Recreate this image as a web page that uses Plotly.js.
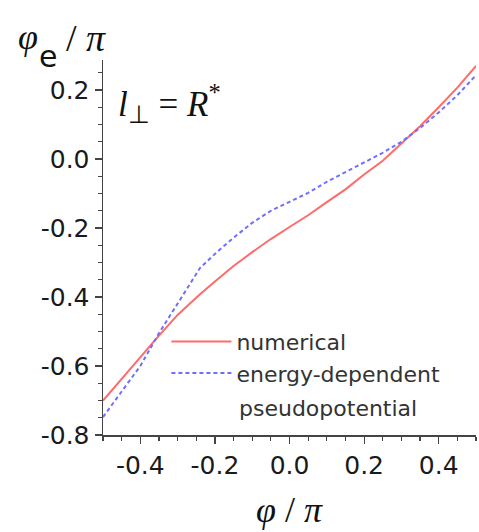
<!DOCTYPE html>
<html>
<head>
<meta charset="utf-8">
<script src="https://cdn.plot.ly/plotly-3.0.1.min.js"></script>
<style>html,body{margin:0;padding:0;background:#fff;}#chart{width:479px;height:532px;}</style>
</head>
<body>
<div id="chart"></div>
<script>
// phi/pi values
const xNumerical = [-0.5, -0.45, -0.4, -0.35, -0.3, -0.24, -0.2, -0.15, -0.1, -0.05, 0.0, 0.05, 0.1, 0.15, 0.2, 0.25, 0.3, 0.35, 0.4, 0.45, 0.5];
const yNumerical = [-0.70, -0.637, -0.574, -0.512, -0.452, -0.392, -0.355, -0.31, -0.27, -0.232, -0.197, -0.163, -0.125, -0.088, -0.045, -0.005, 0.045, 0.095, 0.15, 0.207, 0.27];
const xEnergy = [-0.5, -0.45, -0.4, -0.35, -0.3, -0.24, -0.2, -0.15, -0.1, -0.05, 0.0, 0.05, 0.1, 0.15, 0.2, 0.25, 0.3, 0.35, 0.4, 0.45, 0.5];
const yEnergy = [-0.748, -0.675, -0.60, -0.505, -0.42, -0.316, -0.275, -0.228, -0.185, -0.15, -0.124, -0.098, -0.066, -0.037, -0.01, 0.018, 0.05, 0.09, 0.135, 0.185, 0.243];
const seriesNames = ["numerical", "energy-dependent"];
const xTickVals = [-0.4, -0.2, 0.0, 0.2, 0.4];
const xTickText = ["-0.4", "-0.2", "0.0", "0.2", "0.4"];
const yTickVals = [-0.8, -0.6, -0.4, -0.2, 0.0, 0.2];
const yTickText = ["-0.8", "-0.6", "-0.4", "-0.2", "0.0", "0.2"];

const axisColor = "#444";
const tickFont = {family: "DejaVu Sans", size: 25, color: "#1a1a1a"};
const serif = "Liberation Serif";

const traces = [
  {x: xNumerical, y: yNumerical, name: seriesNames[0], mode: "lines",
   line: {color: "#ff6b6b", width: 2}},
  {x: xEnergy, y: yEnergy, name: seriesNames[1], mode: "lines",
   line: {color: "#6f6fff", width: 2, dash: "4px,3px"}}
];

const layout = {
  width: 479, height: 532,
  margin: {l: 103, r: 3, t: 60, b: 97},
  paper_bgcolor: "#fff", plot_bgcolor: "#fff",
  showlegend: true,
  legend: {x: 0.17, y: 0.305, xanchor: "left", yanchor: "top", itemwidth: 60,
    font: {family: "DejaVu Sans", size: 22, color: "#333"},
    bgcolor: "rgba(0,0,0,0)", tracegroupgap: 0},
  xaxis: {range: [-0.5, 0.5], tickvals: xTickVals, ticktext: xTickText,
    showgrid: false, zeroline: false, showline: true, linecolor: axisColor, linewidth: 1.5,
    ticks: "outside", ticklen: 7, tickwidth: 1.2, tickcolor: axisColor, tickfont: tickFont,
    minor: {dtick: 0.05, tick0: 0, ticks: "outside", ticklen: 4, tickcolor: axisColor, showgrid: false}},
  yaxis: {range: [-0.8, 0.287], tickvals: yTickVals, ticktext: yTickText,
    showgrid: false, zeroline: false, showline: true, linecolor: axisColor, linewidth: 1.5,
    ticks: "outside", ticklen: 7, tickwidth: 1.2, tickcolor: axisColor, tickfont: tickFont,
    minor: {dtick: 0.05, tick0: 0, ticks: "outside", ticklen: 4, tickcolor: axisColor, showgrid: false}},
  xaxis2: {overlaying: "x", matches: "x", side: "top", anchor: "y", range: [-0.5, 0.5],
    tickvals: xTickVals, showticklabels: false, showgrid: false, zeroline: false,
    showline: true, linecolor: axisColor, linewidth: 1.5,
    ticks: "inside", ticklen: 6, tickwidth: 1.2, tickcolor: axisColor,
    minor: {dtick: 0.05, tick0: 0, ticks: "inside", ticklen: 3, tickcolor: axisColor, showgrid: false}},
  yaxis2: {overlaying: "y", side: "right", anchor: "x", range: [-0.8, 0.287],
    tickvals: yTickVals, showticklabels: false, showgrid: false, zeroline: false,
    showline: true, linecolor: axisColor, linewidth: 1.5,
    ticks: "inside", ticklen: 6, tickwidth: 1.2, tickcolor: axisColor,
    minor: {dtick: 0.05, tick0: 0, ticks: "inside", ticklen: 3, tickcolor: axisColor, showgrid: false}},
  annotations: [
    {xref: "paper", yref: "paper", x: 0.035, y: 0.955, xanchor: "left", yanchor: "top", showarrow: false,
     text: "<i>l</i><sub>⊥</sub>&nbsp;= <i>R</i><sup>*</sup>",
     font: {family: serif, size: 35, color: "#111"}},
    {xref: "paper", yref: "paper", x: 0.36, y: 0.072, xanchor: "left", yanchor: "middle", showarrow: false,
     text: "pseudopotential", font: {family: "DejaVu Sans", size: 22, color: "#333"}},
    // y-axis title: φ_e / π
    {xref: "paper", yref: "paper", x: -0.232, y: 1.0, xanchor: "left", yanchor: "middle", yshift: 23, showarrow: false,
     text: "<i>φ</i>", font: {family: serif, size: 36, color: "#111"}},
    {xref: "paper", yref: "paper", x: -0.178, y: 1.0, xanchor: "left", yanchor: "middle", yshift: 4, showarrow: false,
     text: "e", font: {family: "DejaVu Sans", size: 30, color: "#111"}},
    {xref: "paper", yref: "paper", x: -0.105, y: 1.0, xanchor: "left", yanchor: "middle", yshift: 22, showarrow: false,
     text: "/ <i>π</i>", font: {family: serif, size: 38, color: "#111"}},
    {xref: "paper", yref: "paper", x: 0.5, y: -0.2, xanchor: "center", yanchor: "middle", showarrow: false,
     text: "<i>φ</i> / <i>π</i>",
     font: {family: serif, size: 36, color: "#111"}}
  ]
};

Plotly.newPlot("chart", traces, layout, {displayModeBar: false, staticPlot: true});
</script>
</body>
</html>
